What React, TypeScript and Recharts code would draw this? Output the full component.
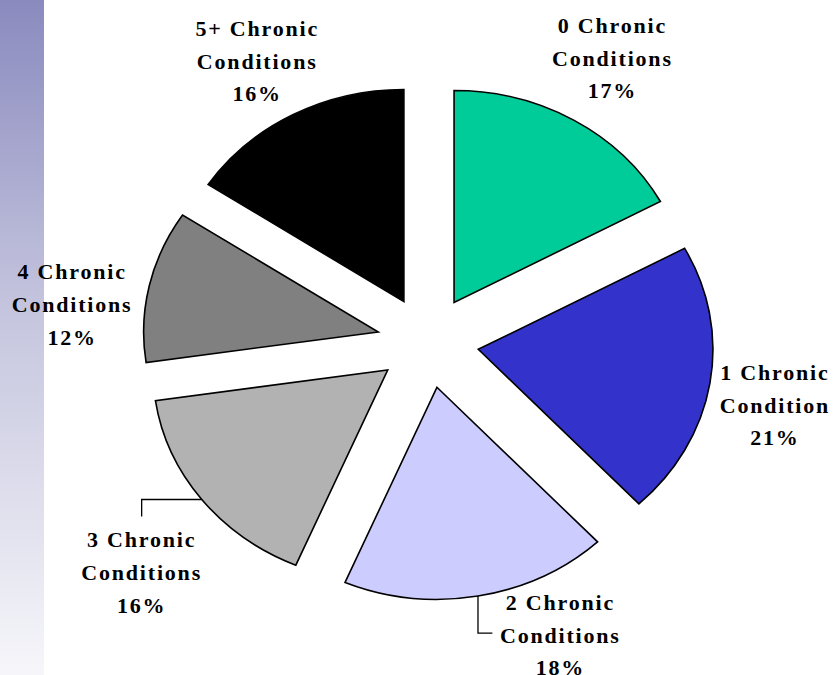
import React from "react"
import { PieChart, Pie, Cell } from "recharts"

// slices clockwise from 12 o'clock
const firstLines = ["0 Chronic", "1 Chronic", "2 Chronic", "3 Chronic", "4 Chronic", "5+ Chronic"]
const secondLines = ["Conditions", "Condition", "Conditions", "Conditions", "Conditions", "Conditions"]
const shares = [17.1, 20.9, 18.4, 16.3, 11.6, 15.7]
const colors = ["#00CC99", "#3333CC", "#CCCCFF", "#B2B2B2", "#808080", "#000000"]

const data = firstLines.map((name, i) => ({ name, value: shares[i] }))

const RAD = Math.PI / 180
const SX = 1.107 // the pie is stretched sideways
const EXPLODE = 46
const LABEL_R = 322
const LABEL_NUDGE = [
  [2, -7],
  [-5, 12],
  [70, -24],
  [-4, 34],
  [-8, 33],
  [-2, 3],
]
const LEADER = ["", "", "down", "left", "", ""]

const renderSlice = (props: any) => {
  const { cx, cy, outerRadius, startAngle, endAngle, midAngle, fill } = props
  const r = outerRadius
  const ox = cx + SX * EXPLODE * Math.cos(midAngle * RAD)
  const oy = cy - EXPLODE * Math.sin(midAngle * RAD)
  const x1 = ox + SX * r * Math.cos(startAngle * RAD)
  const y1 = oy - r * Math.sin(startAngle * RAD)
  const x2 = ox + SX * r * Math.cos(endAngle * RAD)
  const y2 = oy - r * Math.sin(endAngle * RAD)
  const large = Math.abs(startAngle - endAngle) > 180 ? 1 : 0
  const d = `M${ox},${oy} L${x1},${y1} A${SX * r},${r} 0 ${large} 1 ${x2},${y2} Z`
  return <path d={d} fill={fill} stroke="#000" strokeWidth={1.6} strokeLinejoin="miter" />
}

const renderLabel = (props: any) => {
  const { cx, cy, midAngle, outerRadius, index, percent } = props
  const m = midAngle * RAD
  const lx = cx + SX * LABEL_R * Math.cos(m) + LABEL_NUDGE[index][0]
  const ly = cy - LABEL_R * Math.sin(m) + LABEL_NUDGE[index][1]
  const ox = cx + SX * EXPLODE * Math.cos(m)
  const oy = cy - EXPLODE * Math.sin(m)
  const ax = ox + SX * outerRadius * Math.cos(m)
  const ay = oy - outerRadius * Math.sin(m)
  let leader = null
  if (LEADER[index] === "down") {
    leader = <path d={`M${ax},${ay} L${ax},${ly - 2} L${lx - 68},${ly - 2}`} fill="none" stroke="#000" strokeWidth={1.3} />
  } else if (LEADER[index] === "left") {
    leader = <path d={`M${ax},${ay} L${lx},${ay} L${lx},${ly - 56}`} fill="none" stroke="#000" strokeWidth={1.3} />
  }
  const textProps = {
    x: lx,
    textAnchor: "middle" as const,
    fontFamily: "'Liberation Serif', 'Times New Roman', serif",
    fontWeight: "bold",
    fontSize: 22,
    letterSpacing: 1.8,
    fill: "#000",
  }
  return (
    <g>
      {leader}
      <text {...textProps} y={ly - 25.5}>{firstLines[index]}</text>
      <text {...textProps} y={ly + 7.5}>{secondLines[index]}</text>
      <text {...textProps} y={ly + 40}>{Math.round(percent * 100) + "%"}</text>
    </g>
  )
}

export default function App() {
  return (
    <div style={{ position: "absolute", left: 0, top: 0, width: 834, height: 675, background: "#fff" }}>
      <div
        style={{
          position: "absolute",
          left: 0,
          top: 0,
          width: 44,
          height: 675,
          background: "linear-gradient(to bottom, #8a8abf 0%, #c4c4de 45%, #f6f6fa 100%)",
        }}
      />
      <div style={{ position: "absolute", left: 0, top: 0 }}>
        <PieChart width={834} height={675} margin={{ top: 0, right: 0, bottom: 0, left: 0 }}>
          <Pie
            data={data}
            dataKey="value"
            nameKey="name"
            cx={428}
            cy={342}
            outerRadius={212}
            startAngle={90}
            endAngle={-270}
            isAnimationActive={false}
            labelLine={false}
            label={renderLabel}
            shape={renderSlice}
            activeShape={renderSlice}
            inactiveShape={renderSlice}
          >
            {data.map((d, i) => (
              <Cell key={d.name} fill={colors[i]} />
            ))}
          </Pie>
        </PieChart>
      </div>
    </div>
  )
}
